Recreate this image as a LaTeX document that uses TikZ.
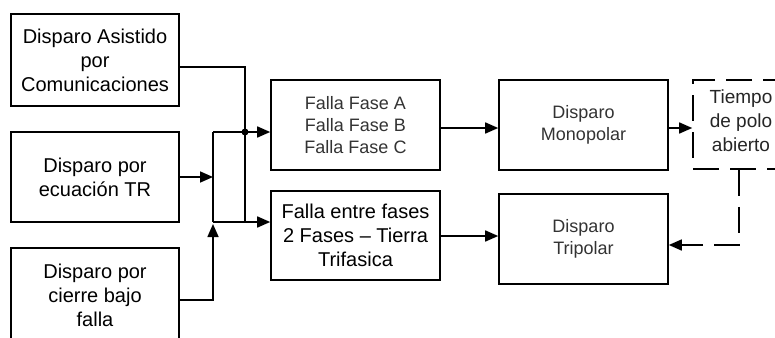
\documentclass[tikz,border=0pt]{standalone}
\usepackage{fontspec}
\setmainfont{Liberation Sans}
\usetikzlibrary{arrows.meta}
\begin{document}
\begin{tikzpicture}[x=1pt,y=-1pt,
 box/.style={draw, line width=1.6pt, inner sep=0pt, align=center, font=\fontsize{20}{24}\selectfont},
 sbox/.style={box, font=\fontsize{18}{22}\selectfont, text=black!80},
 conn/.style={line width=1.6pt},
 arr/.style={conn, -{Triangle[length=13pt,width=11pt]}},
 dsh/.style={dash pattern=on 26pt off 11pt}]
\useasboundingbox (0,0) rectangle (775,337);
\fill[white] (0,0) rectangle (775,337);
\node[box, minimum width=168pt, minimum height=92pt] (b1) at (95,60) {Disparo Asistido\\por\\Comunicaciones};
\node[box, minimum width=168pt, minimum height=90pt] (b2) at (95,177) {Disparo por\\ecuación TR};
\node[box, minimum width=168pt, minimum height=94pt] (b3) at (95,295) {Disparo por\\cierre bajo\\falla};
\node[sbox, minimum width=169pt, minimum height=90pt] (f1) at (355.5,125) {Falla Fase A\\Falla Fase B\\Falla Fase C};
\node[box, minimum width=169pt, minimum height=89pt] (f2) at (355.5,235.5) {Falla entre fases\\2 Fases – Tierra\\Trifasica};
\node[sbox, minimum width=169pt, minimum height=90pt] (mono) at (583.5,125) {Disparo\\Monopolar};
\node[sbox, minimum width=169pt, minimum height=90pt] (tri) at (583.5,239) {Disparo\\Tripolar};
\node[box, dsh, minimum width=96pt, minimum height=89pt, text depth=8pt, font=\fontsize{19}{24}\selectfont, text=black!85] (tiempo) at (741,124.5) {Tiempo\\de polo\\abierto};
\coordinate (j1) at (245,67);
\coordinate (j2) at (245,222);
\coordinate (k1) at (213,132);
\coordinate (k2) at (213,222);
\coordinate (k3) at (213,177);
\coordinate (k4) at (213,300);
\coordinate (k5) at (213,224);
\coordinate (m1) at (470,128);
\coordinate (m2) at (470,236);
\coordinate (d0) at (739,169);
\coordinate (d1) at (739,245);
\draw[conn] (b1.east |- j1) -- (j1) -- (j2);
\node[circle, fill, inner sep=0pt, minimum size=7pt] (dot) at (245,132) {};
\draw[arr] (k1) -- (k1 -| f1.west);
\draw[conn] (k1) -- (k2);
\draw[arr] (k2) -- (k2 -| f2.west);
\draw[arr] (b2.east |- k3) -- (k3);
\draw[arr] (b3.east |- k4) -- (k4) -- (k5);
\draw[arr] (f1.east |- m1) -- (mono.west |- m1);
\draw[arr] (f2.east |- m2) -- (tri.west |- m2);
\draw[arr] (mono.east |- m1) -- (tiempo.west |- m1);
\draw[arr, dsh] (tiempo.south -| d0) -- (d1) -- (tri.east |- d1);
\end{tikzpicture}
\end{document}
